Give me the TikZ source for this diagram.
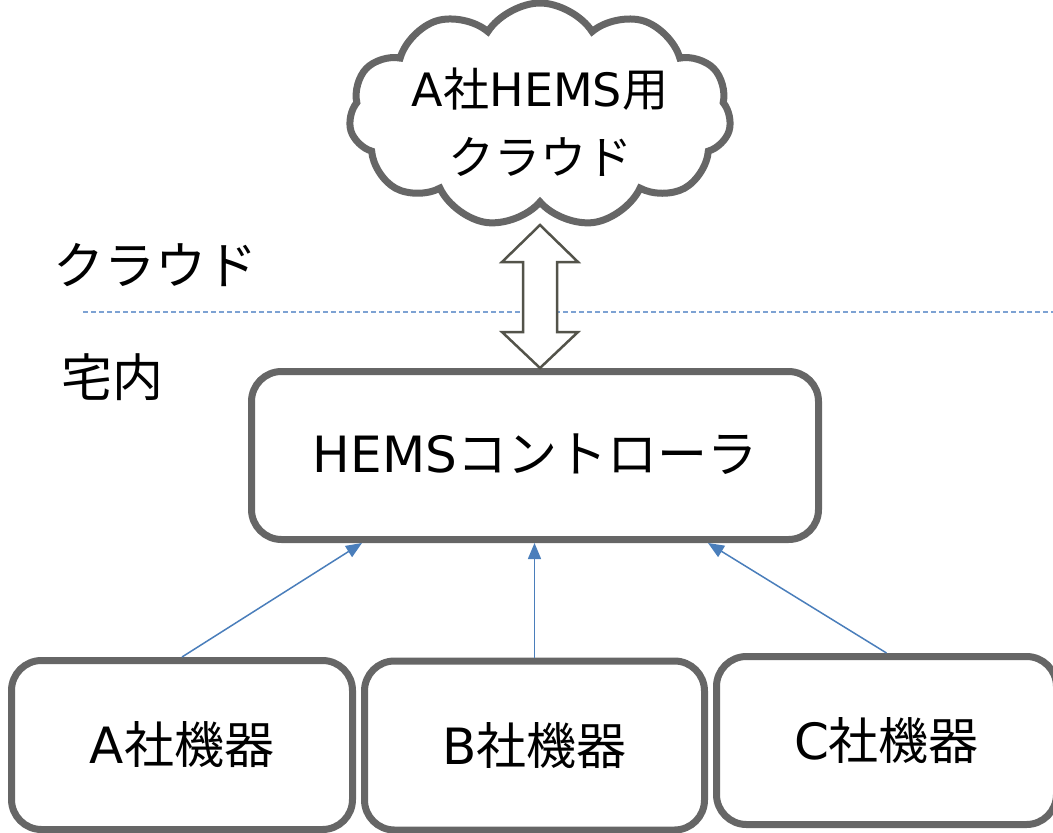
\documentclass[tikz,border=0pt]{standalone}
\usepackage{fontspec}
\setmainfont{Noto Sans CJK JP}
\newfontfamily\latfont{DejaVu Sans}
\usetikzlibrary{shapes.symbols,arrows.meta,calc}
\definecolor{boxgray}{HTML}{666666}
\definecolor{linkblue}{HTML}{4A7EBB}
\definecolor{dashblue}{HTML}{7DA2D3}
\definecolor{arrowgray}{HTML}{53534A}
\tikzset{
  devbox/.style={draw=boxgray, line width=7pt, rounded corners=30pt, fill=white,
    inner sep=0pt, font=\fontsize{50}{56}\selectfont},
  labeltext/.style={inner sep=0pt, font=\fontsize{51}{56}\selectfont},
  flow/.style={draw=linkblue, line width=1.5pt, -{Triangle[length=16pt,width=13pt]}},
  linkarrow/.style={draw=arrowgray, line width=2.5pt, fill=white, line join=miter},
}
\begin{document}
\begin{tikzpicture}[x=1pt,y=-1pt]
\useasboundingbox (0,0) rectangle (1053,833);
% dashed boundary
\coordinate (dl) at (83,312);
\coordinate (dr) at (1053,312);
\draw[dashblue, line width=1.5pt, dash pattern=on 5pt off 3pt] (dl) -- (dr);
% area labels
\node[labeltext] (lcloud) at (155,265) {クラウド};
\node[labeltext] (lhome) at (112,377) {宅内};
% cloud
\node[cloud, cloud puffs=11, cloud puff arc=115, aspect=1.8, draw=boxgray, line width=7pt,
  fill=white, minimum width=382pt, minimum height=224pt, inner sep=0pt] (cloud) at (540,115) {};
\node[align=center, inner sep=0pt, font=\fontsize{46}{56}\selectfont] (cloudtext)
  at ($(cloud.center)+(0,7)$) {{\latfont A}社{\latfont HEMS}用\\[12pt]クラウド};
% controller
\node[devbox, minimum width=567pt, minimum height=168pt] (ctrl) at (535,455.5) {\raisebox{4pt}{{\latfont HEMS}コントローラ}};
% double arrow between cloud and controller
\coordinate (tt) at (540,225);
\coordinate (bt) at (540,368);
\draw[linkarrow] (tt) -- ++(38,37) -- ++(-21,0) -- ++(0,70) -- ++(21,0) -- (bt)
  -- ++(-38,-36) -- ++(21,0) -- ++(0,-70) -- ++(-21,0) -- cycle;
% devices
\node[devbox, minimum width=341pt, minimum height=169pt] (a) at (182,745) {{\latfont A}社機器};
\node[devbox, minimum width=340pt, minimum height=169pt] (b) at (534.5,745.5) {{\latfont B}社機器};
\node[devbox, minimum width=340pt, minimum height=168pt] (c) at (886.5,740.5) {{\latfont C}社機器};
% connectors
\draw[flow] (a.north) -- ($(ctrl.south)+(-173,0)$);
\draw[flow] (b.north) -- (b.north |- ctrl.south);
\draw[flow] (c.north) -- ($(ctrl.south)+(173,0)$);
\end{tikzpicture}
\end{document}
